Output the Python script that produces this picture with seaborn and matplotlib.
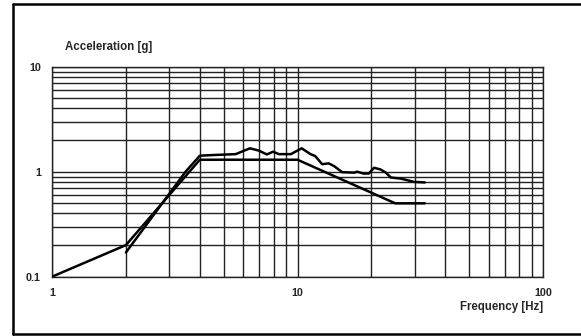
import matplotlib
matplotlib.use("Agg")
import matplotlib.pyplot as plt
import numpy as np
import pandas as pd
import seaborn as sns
from matplotlib.lines import Line2D
from matplotlib.ticker import FixedLocator, FixedFormatter, NullFormatter

# spec envelope (straight segments)
spec_freq = [1, 2, 4, 10, 25, 33]
spec_acc = [0.1, 0.2, 1.3, 1.3, 0.5, 0.5]

# measured response (wiggly line)
meas_freq = [2, 3.5, 4, 4.5, 5.6, 6.4, 6.95, 7.5, 7.95, 8.4, 9.4, 10.4,
             11.3, 11.8, 12.6, 13.4, 14.1, 15.2, 17.0, 17.5, 18.6, 19.5,
             20.5, 21.8, 22.9, 24.0, 26.3, 28.0, 29.8, 33]
meas_acc = [0.17, 1.0, 1.42, 1.44, 1.47, 1.67, 1.59, 1.46, 1.55, 1.47, 1.47, 1.67,
            1.47, 1.41, 1.18, 1.2, 1.13, 0.99, 0.98, 1.0, 0.96, 0.96,
            1.09, 1.05, 0.98, 0.88, 0.86, 0.83, 0.80, 0.79]

x_ticks = [1, 10, 100]
x_tick_labels = ["1", "10", "100"]
y_ticks = [0.1, 1, 10]
y_tick_labels = ["0.1", "1", "10"]

sns.set_theme(style="white")
plt.rcParams["font.family"] = ["Liberation Sans", "DejaVu Sans"]
plt.rcParams["font.weight"] = "bold"

fig = plt.figure(figsize=(5.81, 3.36), dpi=100)
ax = fig.add_axes([52 / 581, 1 - 276.7 / 336, (543 - 52) / 581, (276.7 - 66.7) / 336])

spec_df = pd.DataFrame({"freq": spec_freq, "acc": spec_acc})
meas_df = pd.DataFrame({"freq": meas_freq, "acc": meas_acc})

sns.lineplot(data=spec_df, x="freq", y="acc", color="black", linewidth=1.8,
             sort=False, estimator=None, ax=ax, zorder=5)
sns.lineplot(data=meas_df, x="freq", y="acc", color="black", linewidth=1.8,
             sort=False, estimator=None, ax=ax, zorder=5)

ax.set_xscale("log")
ax.set_yscale("log")
ax.set_xlim(1, 100)
ax.set_ylim(0.1, 10)

ax.xaxis.set_major_locator(FixedLocator(x_ticks))
ax.xaxis.set_major_formatter(FixedFormatter(x_tick_labels))
ax.yaxis.set_major_locator(FixedLocator(y_ticks))
ax.yaxis.set_major_formatter(FixedFormatter(y_tick_labels))
ax.xaxis.set_minor_formatter(NullFormatter())
ax.yaxis.set_minor_formatter(NullFormatter())
minor_x = [m * d for d in (1, 10) for m in range(2, 10)]
minor_y = [m * d for d in (0.1, 1) for m in range(2, 10)]
ax.xaxis.set_minor_locator(FixedLocator(minor_x))
ax.yaxis.set_minor_locator(FixedLocator(minor_y))

ax.grid(True, which="both", color="#222222", linewidth=1.0)
ax.tick_params(which="both", length=0, labelsize=7.8, pad=8)
for lab in ax.get_xticklabels() + ax.get_yticklabels():
    lab.set_fontweight("bold")
for side in ["top", "right", "left", "bottom"]:
    ax.spines[side].set_color("#222222")
    ax.spines[side].set_linewidth(1.0)

ax.set_xlabel("")
ax.set_ylabel("")
fig.text(65 / 581, 1 - 47 / 336, "Acceleration [g]", fontsize=8.3,
         fontweight="bold", va="center", ha="left")
fig.text(543 / 581, 1 - 307 / 336, "Frequency [Hz]", fontsize=8.3,
         fontweight="bold", va="center", ha="right")

# outer frame: left, top and bottom edges (right edge is off the image)
x0, yt, yb = 13 / 581, 1 - 4 / 336, 1 - 334 / 336
for xs, ys in [([x0, x0], [yb, yt]), ([x0, 1], [yt, yt]), ([x0, 1], [yb, yb])]:
    fig.add_artist(Line2D(xs, ys, transform=fig.transFigure, color="black",
                          linewidth=1.8))

fig.savefig("out.png", dpi=100)
